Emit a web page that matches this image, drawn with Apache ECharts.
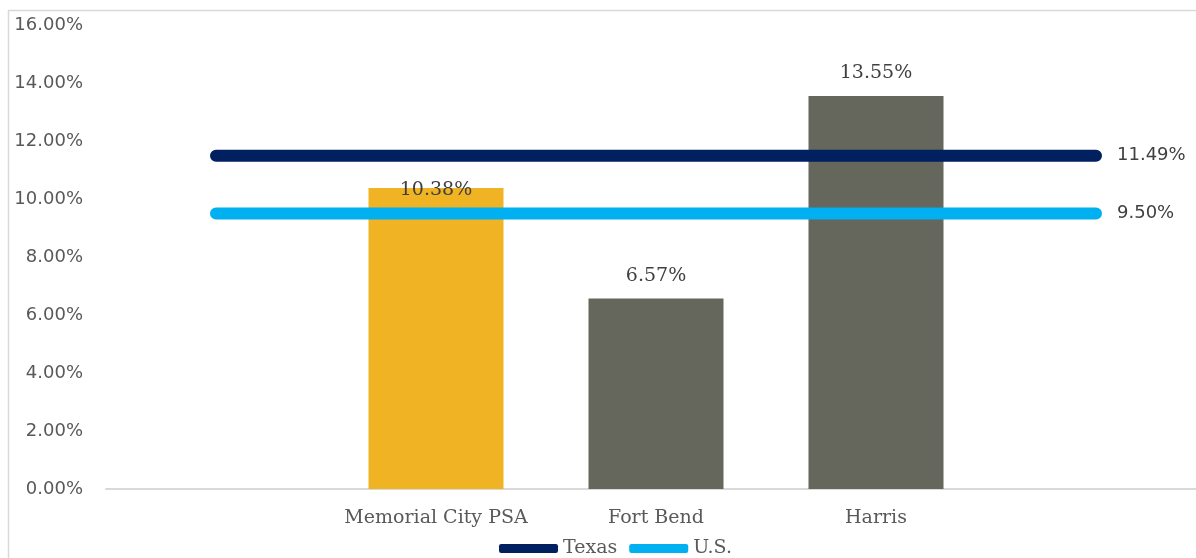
<!DOCTYPE html>
<html>
<head>
<meta charset="utf-8">
<script src="https://cdn.jsdelivr.net/npm/echarts@6/dist/echarts.min.js"></script>
<style>
  html, body { margin: 0; padding: 0; background: #fff; }
  #chart { width: 1196px; height: 558px; }
</style>
</head>
<body>
<div id="chart"></div>
<script>
// categories (first and last slots are empty in the original)
var categories = ['', 'Memorial City PSA', 'Fort Bend', 'Harris', ''];
var areaValues = ['-', 10.38, 6.57, 13.55, '-'];
var texasValues = [11.49, 11.49, 11.49, 11.49, 11.49];
var usValues = [9.50, 9.50, 9.50, 9.50, 9.50];
var barColors = ['#F0B323', '#F0B323', '#65665C', '#65665C', '#65665C'];

var chart = echarts.init(document.getElementById('chart'));

function pct(v) {
    return Number(v).toFixed(2) + '%';
}

var barData = areaValues.map(function (v, i) {
    var item = { value: v, itemStyle: { color: barColors[i] } };
    if (i == 1) {
        // label sits on top of the bar here (pushed down to avoid the Texas line)
        item.label = { offset: [0, 25] };
    }
    return item;
});

var option = {
    animation: false,
    graphic: [{
        type: 'rect',
        shape: { x: 8.5, y: 10.5, width: 1200, height: 560 },
        style: { fill: 'none', stroke: '#d9d9d9', lineWidth: 1.5 },
        silent: true
    }],
    grid: {
        left: 106,
        top: 25,
        width: 1100,
        height: 464,
        outerBoundsMode: 'none'
    },
    legend: {
        data: ['Texas', 'U.S.'],
        left: 494,
        top: 534,
        icon: 'roundRect',
        itemWidth: 59,
        itemHeight: 9,
        itemGap: 12,
        textStyle: { fontFamily: 'DejaVu Serif', fontSize: 19, color: '#595959' }
    },
    xAxis: {
        type: 'category',
        data: categories,
        axisTick: { show: false },
        axisLine: { lineStyle: { color: '#d9d9d9', width: 2 } },
        axisLabel: {
            interval: 0,
            margin: 20,
            fontFamily: 'DejaVu Serif',
            fontSize: 19,
            color: '#595959'
        }
    },
    yAxis: {
        type: 'value',
        min: 0,
        max: 16,
        interval: 2,
        splitLine: { show: false },
        axisLine: { show: false },
        axisTick: { show: false },
        axisLabel: {
            margin: 23,
            fontFamily: 'DejaVu Sans',
            fontSize: 18,
            color: '#595959',
            formatter: pct
        }
    },
    series: [{
        name: 'Area',
        type: 'bar',
        data: barData,
        barWidth: 135,
        label: {
            show: true,
            position: 'top',
            distance: 13,
            fontFamily: 'DejaVu Serif',
            fontSize: 19,
            color: '#404040',
            formatter: function (p) { return pct(p.value); }
        },
        z: 1
    }, {
        name: 'Texas',
        type: 'line',
        data: texasValues,
        symbol: 'none',
        color: '#002060',
        lineStyle: { color: '#002060', width: 12, cap: 'round' },
        endLabel: {
            show: true,
            distance: 21,
            fontFamily: 'DejaVu Sans',
            fontSize: 18,
            color: '#404040',
            formatter: function (p) { return pct(p.value); }
        },
        z: 3
    }, {
        name: 'U.S.',
        type: 'line',
        data: usValues,
        symbol: 'none',
        color: '#00B0F0',
        lineStyle: { color: '#00B0F0', width: 12, cap: 'round' },
        endLabel: {
            show: true,
            distance: 21,
            fontFamily: 'DejaVu Sans',
            fontSize: 18,
            color: '#404040',
            formatter: function (p) { return pct(p.value); }
        },
        z: 3
    }]
};

chart.setOption(option);
</script>
</body>
</html>
